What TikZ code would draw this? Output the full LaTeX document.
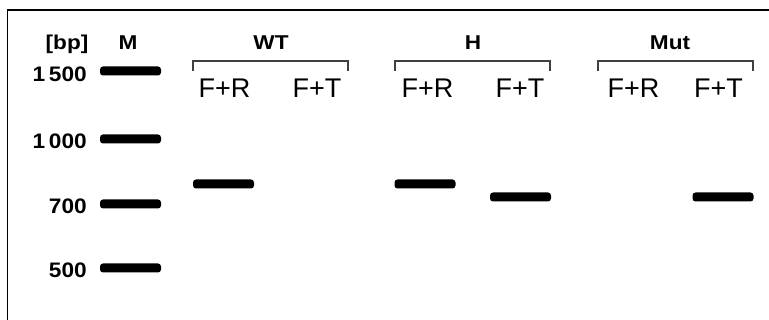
\documentclass[tikz,border=0pt]{standalone}
\usepackage{fontspec}
\setmainfont{Liberation Sans}
\newcommand{\wide}[1]{\scalebox{1.13}[1]{#1}}
\newcommand{\widenum}[1]{\scalebox{1.08}[1]{#1}}
\begin{document}
\begin{tikzpicture}[x=1pt,y=-1pt,
  band/.style={fill=black, rounded corners=3pt, inner sep=0pt, minimum width=61pt, minimum height=9pt},
  hdr/.style={font=\fontsize{20}{20}\selectfont\bfseries, anchor=base, inner sep=0pt},
  num/.style={font=\fontsize{21}{21}\selectfont\bfseries, anchor=base east, inner sep=0pt},
  lane/.style={font=\fontsize{27}{27}\selectfont, anchor=base, inner sep=0pt},
  brk/.style={draw=black!75, line width=1.1pt},
  frame/.style={draw=black, line width=1.5pt}]
\useasboundingbox (0,0) rectangle (769,320);
% frame
\coordinate (fb) at (7.5,320);
\coordinate (fc) at (7.5,10);
\coordinate (fr) at (769,10);
\draw[frame] (fb) -- (fc) -- (fr);
% headers
\node[hdr] (bp) at (67,50) {\wide{[bp]}};
\node[hdr] (M) at (128,50) {\wide{M}};
\node[hdr] (WT) at (271,50) {\wide{WT}};
\node[hdr] (H) at (473,50) {\wide{H}};
\node[hdr] (Mut) at (670,50) {\wide{Mut}};
% brackets
\foreach \n/\a/\b in {wt/193/348, h/395/550, mut/598/753}{
  \coordinate (\n1) at (\a,71);
  \coordinate (\n2) at (\a,61);
  \coordinate (\n3) at (\b,61);
  \coordinate (\n4) at (\b,71);
  \draw[brk] (\n1) -- (\n2) -- (\n3) -- (\n4);
}
% lane labels
\node[lane] (l1) at (224.5,97.5) {F+R};
\node[lane] (l2) at (317,97.5) {F+T};
\node[lane] (l3) at (427.5,97.5) {F+R};
\node[lane] (l4) at (520,97.5) {F+T};
\node[lane] (l5) at (633.5,97.5) {F+R};
\node[lane] (l6) at (718.5,97.5) {F+T};
% marker
\node[num] (n1500) at (87,82) {\widenum{1\,500}};
\node[num] (n1000) at (87,149) {\widenum{1\,000}};
\node[num] (n700) at (87,213.5) {\widenum{700}};
\node[num] (n500) at (87,277.5) {\widenum{500}};
\node[band] (m1500) at (130.5,71) {};
\node[band] (m1000) at (130.5,139) {};
\node[band] (m700) at (130.5,204) {};
\node[band] (m500) at (130.5,268) {};
% sample bands
\node[band] (wtfr) at (223.5,184) {};
\node[band] (hfr) at (425,184) {};
\node[band] (hft) at (520.5,197) {};
\node[band] (mutft) at (723,197) {};
\end{tikzpicture}
\end{document}
